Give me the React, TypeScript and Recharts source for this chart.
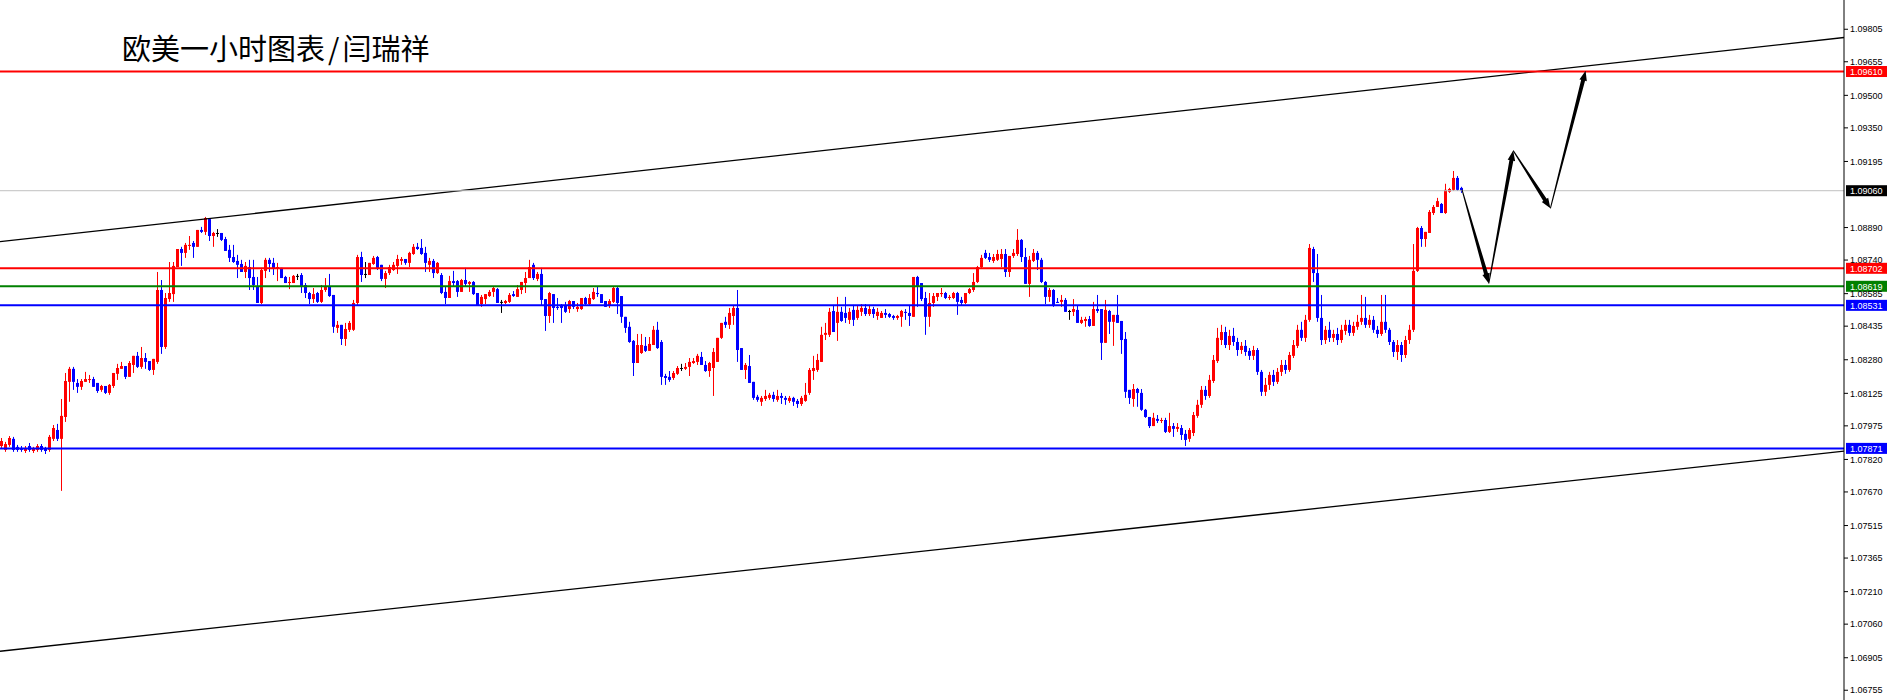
import React from "react";
import { ComposedChart, Bar, XAxis, YAxis, ReferenceLine } from "recharts";

// EURUSD H1 candles, prices in points above 1.00000 (1 point = 0.00001)
const opens = [
  7882,7864,7887,7915,7878,7873,7859,7882,7859,7864,7882,7869,7864,7915,7956,7915,8016,8178,8238,8173,
  8155,8178,8187,8191,8173,8141,8159,8127,8159,8215,8238,8251,8201,8256,8298,8247,8288,8274,8233,8270,
  8602,8339,8560,8583,8708,8791,8773,8805,8819,8801,8879,8870,8929,8851,8865,8865,8837,8787,8754,8736,
  8722,8685,8708,8662,8616,8542,8690,8741,8727,8699,8704,8662,8634,8634,8667,8671,8625,8588,8560,8588,
  8547,8602,8620,8579,8427,8441,8376,8418,8418,8542,8754,8676,8671,8722,8754,8718,8653,8680,8694,8713,
  8736,8745,8727,8768,8801,8796,8773,8718,8736,8680,8671,8593,8565,8643,8643,8593,8648,8630,8639,8588,
  8537,8560,8574,8593,8606,8547,8542,8547,8583,8570,8602,8634,8657,8718,8653,8676,8560,8482,8583,8524,
  8533,8533,8514,8551,8514,8514,8565,8537,8560,8588,8583,8551,8528,8547,8611,8574,8478,8432,8367,8265,
  8311,8344,8321,8348,8418,8362,8205,8201,8196,8215,8242,8238,8247,8265,8270,8293,8256,8228,8242,8270,
  8381,8455,8441,8482,8519,8334,8233,8251,8178,8109,8086,8099,8104,8118,8095,8113,8104,8090,8104,8090,
  8076,8090,8127,8228,8233,8270,8395,8395,8505,8450,8501,8496,8464,8510,8473,8501,8519,8491,8514,8482,
  8473,8496,8491,8482,8473,8478,8501,8496,8478,8662,8634,8565,8478,8542,8570,8583,8588,8565,8565,8588,
  8556,8542,8588,8602,8639,8708,8773,8754,8736,8741,8745,8768,8685,8759,8768,8833,8754,8630,8736,8773,
  8741,8639,8570,8602,8547,8547,8556,8505,8501,8510,8450,8459,8468,8436,8514,8514,8358,8505,8455,8487,
  8459,8376,8141,8099,8145,8127,8049,8016,7974,8007,7998,8002,7947,7974,7961,7965,7938,7915,7942,8021,
  8072,8141,8113,8182,8274,8371,8408,8348,8390,8362,8325,8344,8321,8298,8325,8224,8132,8164,8210,8178,
  8224,8256,8233,8298,8344,8418,8381,8464,8791,8680,8473,8371,8418,8381,8399,8371,8413,8441,8404,8432,
  8455,8473,8441,8464,8418,8399,8455,8418,8362,8316,8348,8302,8371,8418,8690,8888,8837,8865,8957,8985,
  8999,8957,9055,9064,9119,9073,
];
const highs = [
  7919,7901,7928,7924,7887,7882,7882,7896,7878,7891,7891,7878,7933,7979,7984,8099,8219,8247,8247,8191,
  8191,8224,8210,8201,8173,8164,8159,8168,8219,8261,8270,8251,8274,8298,8316,8339,8311,8274,8284,8685,
  8648,8588,8731,8731,8791,8801,8819,8851,8828,8879,8893,8939,8934,8870,8883,8865,8847,8810,8810,8764,
  8741,8731,8741,8741,8662,8704,8750,8750,8750,8727,8704,8667,8662,8671,8676,8680,8634,8593,8611,8593,
  8625,8657,8676,8579,8459,8441,8450,8459,8556,8764,8778,8731,8727,8759,8759,8718,8690,8718,8731,8764,
  8754,8745,8778,8814,8819,8837,8801,8750,8745,8731,8680,8616,8667,8690,8648,8653,8704,8643,8643,8588,
  8579,8583,8602,8616,8611,8556,8556,8588,8597,8625,8639,8685,8741,8727,8685,8704,8560,8593,8583,8565,
  8537,8547,8556,8551,8542,8565,8570,8583,8611,8616,8583,8551,8560,8616,8616,8574,8478,8455,8371,8399,
  8399,8385,8385,8436,8455,8371,8215,8228,8228,8251,8261,8265,8288,8288,8307,8316,8274,8270,8334,8381,
  8450,8478,8519,8528,8602,8334,8265,8302,8178,8118,8113,8141,8127,8132,8141,8127,8113,8113,8109,8099,
  8113,8173,8242,8298,8307,8432,8450,8519,8533,8570,8524,8570,8519,8533,8528,8537,8537,8533,8524,8519,
  8505,8514,8496,8487,8487,8510,8514,8533,8662,8667,8634,8593,8588,8588,8588,8611,8593,8579,8593,8593,
  8570,8588,8611,8680,8713,8764,8787,8773,8768,8787,8791,8791,8759,8791,8883,8837,8796,8759,8791,8782,
  8750,8643,8611,8606,8565,8579,8565,8510,8560,8528,8478,8478,8482,8547,8579,8514,8556,8510,8487,8579,
  8459,8408,8141,8168,8150,8145,8053,8016,8035,8025,8012,8012,8035,7988,7988,7979,7956,7965,8039,8095,
  8159,8159,8210,8302,8427,8441,8432,8418,8427,8381,8362,8371,8334,8344,8334,8233,8196,8224,8233,8242,
  8279,8279,8316,8371,8441,8455,8487,8814,8801,8768,8579,8436,8455,8418,8427,8441,8464,8464,8455,8487,
  8579,8570,8487,8482,8436,8579,8579,8427,8371,8371,8362,8390,8441,8814,8893,8897,8870,8971,8994,9027,
  9003,9092,9073,9151,9128,9078,
];
const lows = [
  7873,7855,7878,7855,7855,7855,7850,7855,7850,7855,7855,7845,7855,7905,7905,7675,7993,8086,8141,8127,
  8141,8178,8173,8155,8127,8132,8122,8118,8150,8187,8238,8191,8201,8219,8242,8238,8238,8228,8210,8261,
  8307,8330,8547,8547,8708,8713,8750,8787,8750,8801,8865,8856,8828,8801,8847,8828,8782,8731,8727,8657,
  8685,8657,8602,8602,8542,8537,8657,8685,8671,8643,8657,8634,8606,8634,8648,8588,8565,8537,8542,8542,
  8542,8593,8570,8404,8404,8348,8344,8408,8413,8533,8639,8657,8671,8718,8694,8643,8611,8671,8690,8676,
  8718,8718,8708,8764,8787,8764,8685,8685,8657,8676,8583,8537,8565,8616,8570,8593,8616,8593,8579,8533,
  8524,8537,8570,8570,8542,8496,8537,8542,8570,8570,8583,8588,8657,8648,8643,8533,8413,8450,8450,8510,
  8450,8496,8496,8514,8501,8510,8533,8533,8556,8570,8542,8524,8519,8542,8491,8450,8404,8358,8205,8265,
  8307,8316,8321,8348,8330,8164,8164,8178,8187,8210,8228,8233,8205,8261,8256,8256,8224,8201,8113,8270,
  8376,8427,8422,8441,8270,8233,8191,8173,8095,8086,8067,8090,8095,8086,8086,8076,8072,8081,8067,8058,
  8067,8086,8118,8187,8224,8270,8371,8385,8408,8367,8455,8450,8445,8436,8464,8482,8482,8482,8473,8464,
  8473,8473,8473,8464,8464,8432,8464,8436,8478,8524,8551,8395,8432,8524,8551,8570,8560,8556,8560,8487,
  8533,8537,8583,8593,8634,8704,8745,8731,8727,8736,8708,8662,8662,8750,8759,8731,8630,8570,8731,8694,
  8634,8537,8547,8524,8542,8524,8501,8464,8482,8450,8445,8432,8432,8436,8496,8279,8358,8399,8344,8450,
  8307,8104,8076,8063,8063,8044,8012,7965,7974,7988,7988,7942,7942,7924,7947,7910,7882,7901,7928,8012,
  8058,8095,8104,8173,8265,8348,8334,8325,8344,8298,8307,8298,8279,8279,8210,8113,8113,8141,8159,8168,
  8205,8215,8224,8288,8334,8367,8362,8455,8639,8455,8348,8353,8362,8362,8348,8358,8395,8390,8390,8418,
  8441,8427,8427,8404,8381,8390,8404,8348,8293,8279,8270,8288,8353,8408,8685,8801,8801,8865,8948,8985,
  8957,8953,9050,9059,9059,9050,
];
const closes = [
  7905,7891,7919,7864,7864,7864,7873,7864,7869,7882,7864,7859,7924,7965,7915,8021,8182,8238,8178,8155,
  8182,8191,8191,8155,8136,8159,8127,8164,8219,8242,8251,8201,8265,8298,8247,8288,8270,8233,8284,8602,
  8339,8565,8588,8713,8791,8773,8810,8810,8801,8879,8870,8934,8851,8865,8865,8833,8782,8750,8731,8718,
  8685,8713,8657,8625,8542,8694,8741,8722,8699,8708,8657,8634,8639,8667,8667,8616,8588,8560,8583,8547,
  8602,8620,8574,8432,8441,8376,8422,8450,8542,8754,8671,8676,8727,8750,8699,8653,8680,8708,8718,8745,
  8745,8727,8773,8801,8791,8768,8727,8736,8680,8727,8588,8565,8643,8634,8593,8648,8630,8639,8583,8533,
  8570,8583,8593,8611,8542,8547,8551,8579,8574,8606,8639,8657,8708,8657,8676,8556,8482,8588,8519,8519,
  8519,8501,8551,8524,8524,8565,8537,8565,8593,8583,8542,8524,8551,8611,8542,8478,8427,8362,8265,8348,
  8348,8321,8353,8418,8334,8201,8196,8187,8219,8242,8242,8247,8270,8274,8298,8256,8228,8265,8316,8381,
  8450,8441,8496,8519,8325,8233,8256,8173,8104,8095,8104,8113,8118,8099,8113,8104,8095,8104,8086,8076,
  8104,8118,8233,8242,8279,8395,8404,8501,8408,8501,8459,8473,8501,8464,8510,8519,8491,8514,8491,8501,
  8496,8487,8478,8473,8482,8505,8496,8482,8662,8620,8560,8478,8542,8574,8588,8588,8565,8570,8588,8547,
  8542,8588,8606,8639,8708,8750,8750,8741,8754,8768,8768,8685,8759,8773,8833,8754,8630,8741,8773,8741,
  8639,8570,8602,8533,8542,8556,8501,8505,8514,8450,8464,8468,8436,8514,8505,8358,8510,8455,8487,8450,
  8371,8132,8104,8145,8127,8049,8016,7974,8012,7998,8002,7947,7974,7961,7970,7933,7910,7956,8025,8072,
  8141,8113,8187,8279,8381,8408,8348,8390,8362,8325,8344,8316,8298,8325,8224,8132,8164,8210,8178,8224,
  8256,8233,8302,8348,8418,8381,8464,8796,8680,8473,8371,8418,8381,8399,8371,8418,8441,8404,8436,8455,
  8473,8441,8464,8418,8399,8455,8418,8362,8316,8348,8302,8371,8418,8690,8888,8837,8870,8962,8985,9012,
  8957,9064,9068,9119,9064,9060,
];

// axis labels (the 1.09040 label sits under the current-price tag, so it is left out)
const priceTicks = [
  1.09805, 1.09655, 1.095, 1.0935, 1.09195, 1.0889, 1.0874, 1.08585, 1.08435, 1.0828,
  1.08125, 1.07975, 1.0782, 1.0767, 1.07515, 1.07365, 1.0721, 1.0706, 1.06905, 1.06755,
];
const levelPrices = [1.0961, 1.08702, 1.08619, 1.08531, 1.07871];
const lastPrice = 1.0906;
const upperTrend = [
  { bar: -0.5, price: 1.08825 },
  { bar: 460.5, price: 1.09767 },
];
const lowerTrend = [
  { bar: -0.5, price: 1.06935 },
  { bar: 460.5, price: 1.07858 },
];
const forecastBars = [365, 371.7, 377.8, 387.1, 395.9];
const forecastPrices = [1.09065, 1.08632, 1.09245, 1.08979, 1.09614];

const title = "欧美一小时图表";
const author = "闫瑞祥";

const RED = "#ff0000";
const BLUE = "#0000ff";
const GREEN = "#008000";
const LEVEL_COLORS = [RED, RED, GREEN, BLUE, BLUE];
const AXIS_FONT = "'Liberation Sans', Arial, sans-serif";

const candles = opens.map((o, i) => ({
  bar: i,
  open: 1 + o / 1e5,
  high: 1 + highs[i] / 1e5,
  low: 1 + lows[i] / 1e5,
  close: 1 + closes[i] / 1e5,
  range: [1 + lows[i] / 1e5, 1 + highs[i] / 1e5],
}));

const Candle = (props: any) => {
  const { x, y, width, height, payload } = props;
  if (!payload || y == null || height == null) return null;
  const { open, high, low, close } = payload;
  const top = Math.min(y, y + height);
  const bottom = Math.max(y, y + height);
  const k = (bottom - top) / (high - low || 1);
  const yAt = (v: number) => top + (high - v) * k;
  const cx = Math.floor(x + (width || 0) / 2) + 0.5;
  const color = close > open ? RED : close < open ? BLUE : "#000";
  const yo = yAt(open);
  const yc = yAt(close);
  const bodyTop = Math.min(yo, yc);
  const bodyH = Math.max(1, Math.abs(yc - yo));
  return (
    <g>
      <line x1={cx} x2={cx} y1={top} y2={bottom} stroke={color} strokeWidth={1} />
      <rect x={cx - 1.5} y={bodyTop} width={3} height={bodyH} fill={color} />
    </g>
  );
};

// horizontal level with the price tag on the axis
const levelShape =
  (price: number, color: string, lineWidth: number, tagColor: string) => (p: any) => {
    const right = Math.max(p.x1, p.x2);
    const left = Math.min(p.x1, p.x2);
    return (
      <g>
        <line x1={left} y1={p.y1} x2={right} y2={p.y2} stroke={color} strokeWidth={lineWidth} />
        <rect x={right + 2} y={p.y1 - 5.5} width={41} height={11} fill={tagColor} />
        <text x={right + 6} y={p.y1 + 3.3} fontSize={9} fill="#fff" fontFamily={AXIS_FONT}>
          {price.toFixed(5)}
        </text>
      </g>
    );
  };

// tapered stroke with an arrow head at the end
const arrowShape = (p: any) => {
  const { x1, y1, x2, y2 } = p;
  const dx = x2 - x1;
  const dy = y2 - y1;
  const len = Math.hypot(dx, dy) || 1;
  const ux = dx / len;
  const uy = dy / len;
  const nx = -uy;
  const ny = ux;
  const head = 10;
  const half = 3.8;
  const w0 = 0.5;
  const w1 = 2.0;
  const bx = x2 - ux * head;
  const by = y2 - uy * head;
  const pts = [
    [x1 + nx * w0, y1 + ny * w0],
    [bx + nx * w1, by + ny * w1],
    [bx + nx * half, by + ny * half],
    [x2, y2],
    [bx - nx * half, by - ny * half],
    [bx - nx * w1, by - ny * w1],
    [x1 - nx * w0, y1 - ny * w0],
  ];
  return <polygon points={pts.map((q) => q.join(",")).join(" ")} fill="#000" />;
};

export default function App() {
  return (
    <div style={{ position: "absolute", left: 0, top: 0, width: 1887, height: 700, background: "#fff" }}>
      <ComposedChart
        width={1887}
        height={700}
        data={candles}
        margin={{ top: 0, right: 0, bottom: 0, left: 0 }}
      >
        <XAxis dataKey="bar" type="number" domain={[-0.5, 460.5]} allowDataOverflow hide />
        <YAxis
          orientation="right"
          width={43}
          type="number"
          domain={[1.0671, 1.0994]}
          allowDataOverflow
          ticks={priceTicks}
          interval={0}
          tickFormatter={(v: number) => v.toFixed(5)}
          tickSize={4}
          tickMargin={2}
          axisLine={{ stroke: "#000" }}
          tickLine={{ stroke: "#000" }}
          tick={{ fontSize: 9, fill: "#000", fontFamily: AXIS_FONT }}
        />
        <Bar dataKey="range" barSize={3} isAnimationActive={false} shape={(p: any) => <Candle {...p} />} />
        <ReferenceLine
          segment={[
            { x: upperTrend[0].bar, y: upperTrend[0].price },
            { x: upperTrend[1].bar, y: upperTrend[1].price },
          ]}
          stroke="#000"
          strokeWidth={1.3}
          ifOverflow="visible"
        />
        <ReferenceLine
          segment={[
            { x: lowerTrend[0].bar, y: lowerTrend[0].price },
            { x: lowerTrend[1].bar, y: lowerTrend[1].price },
          ]}
          stroke="#000"
          strokeWidth={1.3}
          ifOverflow="visible"
        />
        <ReferenceLine y={lastPrice} ifOverflow="visible" shape={levelShape(lastPrice, "#c0c0c0", 1, "#000")} />
        {levelPrices.map((lv, k) => (
          <ReferenceLine
            key={"lv" + k}
            y={lv}
            ifOverflow="visible"
            shape={levelShape(lv, LEVEL_COLORS[k], 2, LEVEL_COLORS[k])}
          />
        ))}
        {forecastBars.slice(1).map((b, k) => (
          <ReferenceLine
            key={"fc" + k}
            segment={[
              { x: forecastBars[k], y: forecastPrices[k] },
              { x: b, y: forecastPrices[k + 1] },
            ]}
            ifOverflow="visible"
            shape={arrowShape}
          />
        ))}
      </ComposedChart>
      <svg
        width={1887}
        height={700}
        style={{ position: "absolute", left: 0, top: 0, pointerEvents: "none" }}
      >
        <text x={122} y={59.5} fontSize={29} fill="#000" fontFamily="'Noto Sans CJK SC', sans-serif">
          {title}
          <tspan dx={3}>/</tspan>
          <tspan dx={3}>{author}</tspan>
        </text>
      </svg>
    </div>
  );
}
